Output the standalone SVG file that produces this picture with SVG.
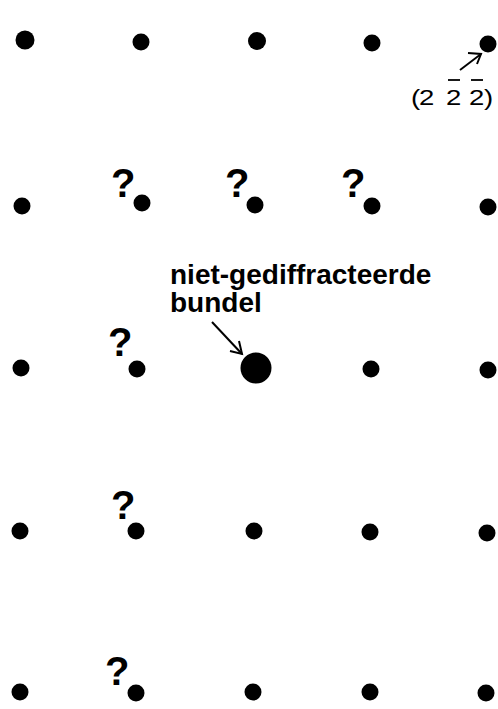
<svg xmlns="http://www.w3.org/2000/svg" width="498" height="709" viewBox="0 0 498 709">
<style>
.dot{fill:#000}
.q{font-family:"Liberation Sans",Arial,sans-serif;font-weight:bold;font-size:40px;fill:#000}
.lbl{font-family:"Liberation Sans",Arial,sans-serif;font-weight:bold;font-size:28px;fill:#000}
.idx{font-family:"Liberation Sans",Arial,sans-serif;font-size:22px;fill:#000}
.arr{stroke:#000;stroke-width:2;fill:none}
</style>
<rect width="498" height="709" fill="#fff"/>
<g id="spots">
<circle class="dot" cx="25" cy="40" r="9.5"/>
<circle class="dot" cx="141" cy="42" r="8.5"/>
<circle class="dot" cx="257" cy="41" r="9"/>
<circle class="dot" cx="372" cy="43" r="8.5"/>
<circle class="dot" cx="488" cy="44" r="8.5"/>
<circle class="dot" cx="22" cy="206" r="8.5"/>
<circle class="dot" cx="142" cy="203" r="8.5"/>
<circle class="dot" cx="255" cy="205" r="8.5"/>
<circle class="dot" cx="372" cy="206" r="8.5"/>
<circle class="dot" cx="488" cy="207" r="8.5"/>
<circle class="dot" cx="21" cy="368" r="8.5"/>
<circle class="dot" cx="137" cy="369" r="8.5"/>
<circle class="dot" cx="371" cy="369" r="8.5"/>
<circle class="dot" cx="488" cy="370" r="8.5"/>
<circle class="dot" cx="20" cy="531" r="8.5"/>
<circle class="dot" cx="136" cy="531" r="8.5"/>
<circle class="dot" cx="254" cy="531" r="8.5"/>
<circle class="dot" cx="370" cy="532" r="8.5"/>
<circle class="dot" cx="487" cy="533" r="8.5"/>
<circle class="dot" cx="20" cy="692" r="8.5"/>
<circle class="dot" cx="136" cy="693" r="8.5"/>
<circle class="dot" cx="253" cy="692" r="8.5"/>
<circle class="dot" cx="370" cy="692" r="8.5"/>
<circle class="dot" cx="486" cy="693" r="8.5"/>
</g>
<g id="beam">
<circle class="dot" cx="256" cy="368" r="15.5"/>
</g>
<g id="questions">
<text class="q" x="111" y="197">?</text>
<text class="q" x="225" y="197">?</text>
<text class="q" x="341" y="197">?</text>
<text class="q" x="108" y="356">?</text>
<text class="q" x="111" y="519">?</text>
<text class="q" x="105" y="685">?</text>
</g>
<g id="label-beam">
<text class="lbl" x="170" y="284">niet-gediffracteerde</text>
<text class="lbl" x="170" y="312">bundel</text>
</g>
<g id="label-index">
<text class="idx" transform="translate(411,105) scale(1.25,1)">(</text>
<text class="idx" transform="translate(419,105) scale(1.25,1)">2</text>
<text class="idx" transform="translate(446,105) scale(1.25,1)">2</text>
<text class="idx" transform="translate(469,105) scale(1.25,1)">2</text>
<text class="idx" transform="translate(484,105) scale(1.25,1)">)</text>
<line x1="448" y1="80" x2="460" y2="80" stroke="#000" stroke-width="1.8"/>
<line x1="471" y1="80" x2="483" y2="80" stroke="#000" stroke-width="1.8"/>
</g>
<g id="connectors">
<line class="arr" x1="212" y1="322" x2="242" y2="354"/>
<polyline class="arr" points="230,351 242,354 239,341"/>
<line class="arr" x1="460" y1="70" x2="481" y2="54"/>
<polyline class="arr" points="468,53 481,54 477,64"/>
</g>
</svg>
